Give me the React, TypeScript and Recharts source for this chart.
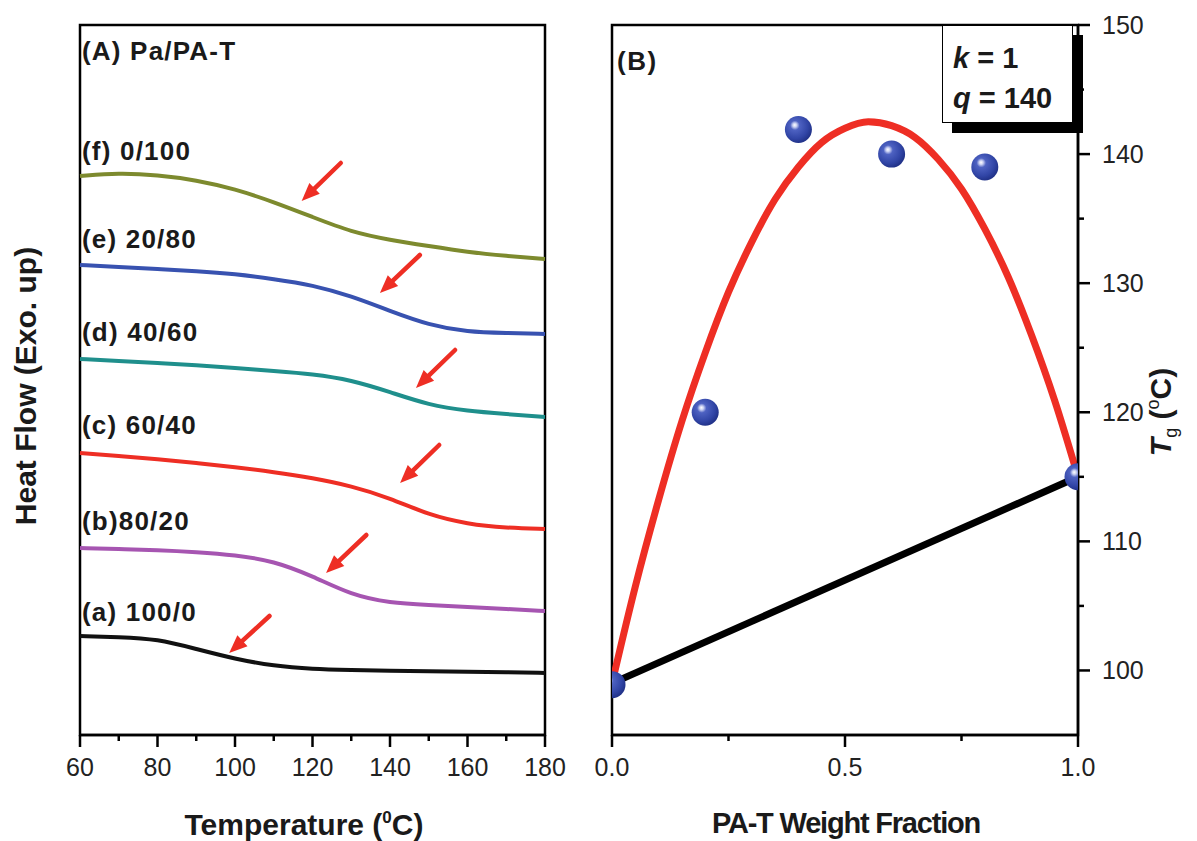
import React from 'react';
import {
  ComposedChart,
  Line,
  Scatter,
  XAxis,
  YAxis,
  ReferenceArea,
  ReferenceLine,
} from 'recharts';

// ---- panel A: DSC traces (heat flow in arbitrary units, offset per sample) ----
const temps = [60, 70, 80, 90, 100, 110, 120, 130, 140, 150, 160, 170, 180];
const flowF = [55.9, 56.2, 56.0, 55.5, 54.6, 53.3, 51.8, 50.3, 49.5, 48.9, 48.3, 47.9, 47.6];
const flowE = [47.0, 46.8, 46.6, 46.4, 46.1, 45.6, 45.0, 43.9, 42.4, 41.0, 40.3, 40.2, 40.1];
const flowD = [37.6, 37.4, 37.2, 37.0, 36.7, 36.4, 36.1, 35.5, 34.3, 33.0, 32.4, 32.1, 31.8];
const flowC = [28.2, 27.9, 27.6, 27.2, 26.8, 26.3, 25.7, 24.9, 23.7, 22.0, 21.1, 20.7, 20.6];
const flowB = [18.7, 18.6, 18.5, 18.3, 18.0, 17.4, 15.9, 14.0, 13.2, 13.0, 12.8, 12.6, 12.4];
const flowA = [9.9, 9.8, 9.6, 8.6, 7.6, 6.9, 6.6, 6.5, 6.4, 6.4, 6.3, 6.3, 6.2];

const tempTicks = [60, 70, 80, 90, 100, 110, 120, 130, 140, 150, 160, 170, 180];

// arrows marking Tg: [tailT, tailFlow, tipT, tipFlow]
const arrows = [
  [127.3, 57.2, 117.2, 53.4],
  [147.7, 48.0, 137.4, 44.2],
  [156.8, 38.5, 146.7, 34.7],
  [152.7, 29.0, 142.6, 25.2],
  [133.9, 20.0, 123.5, 16.2],
  [108.9, 11.9, 98.5, 8.2],
];

const curveLabels = ['(f) 0/100', '(e) 20/80', '(d) 40/60', '(c) 60/40', '(b)80/20', '(a) 100/0'];
const curveLabelY = [151, 239, 332, 425, 521, 612];

// ---- panel B: Tg vs composition ----
const fracs = [0, 0.2, 0.4, 0.6, 0.8, 1.0];
const tgMeasured = [98.9, 120, 141.9, 140, 139, 115];

const fitFracs = [0, 0.05, 0.1, 0.15, 0.2, 0.25, 0.3, 0.35, 0.4, 0.45, 0.5, 0.55, 0.6, 0.65, 0.7, 0.75, 0.8, 0.85, 0.9, 0.95, 1.0];
const tgKwei = [99, 106.5, 113.2, 119.3, 124.6, 129.3, 133.2, 136.5, 139.0, 140.9, 142.0, 142.5, 142.2, 141.3, 139.6, 137.3, 134.2, 130.5, 126.0, 120.9, 115];
const tgLinear = [99, 115];

const fracTicks = [0, 0.25, 0.5, 0.75, 1.0];
const tgTicks = [100, 105, 110, 115, 120, 125, 130, 135, 140, 145, 150];

const dscData = temps.map((t, i) => ({
  t,
  f: flowF[i],
  e: flowE[i],
  d: flowD[i],
  c: flowC[i],
  b: flowB[i],
  a: flowA[i],
}));
const pointData = fracs.map((w, i) => ({ w, tg: tgMeasured[i] }));
const kweiData = fitFracs.map((w, i) => ({ w, tg: tgKwei[i] }));
const linearData = [
  { w: 0, tg: tgLinear[0] },
  { w: 1, tg: tgLinear[1] },
];

const FONT = '"Liberation Sans", Arial, Helvetica, sans-serif';
const RED = '#ee2e24';

const BottomTick = (props: any) => {
  const { x, y, payload, major, fmt } = props;
  const isMajor = major(payload.value);
  return (
    <g>
      <line x1={x} x2={x} y1={y} y2={y + (isMajor ? 12 : 6)} stroke="#000" strokeWidth={2.5} />
      {isMajor && (
        <text x={x} y={y + 41} textAnchor="middle" fontFamily={FONT} fontSize={25} fill="#222">
          {fmt(payload.value)}
        </text>
      )}
    </g>
  );
};

const RightTick = (props: any) => {
  const { x, y, payload } = props;
  const isMajor = payload.value % 10 === 0;
  return (
    <g>
      <line x1={x} x2={x + (isMajor ? 12 : 6)} y1={y} y2={y} stroke="#000" strokeWidth={2.5} />
      {isMajor && (
        <text x={x + 24} y={y + 9} textAnchor="start" fontFamily={FONT} fontSize={25} fill="#222">
          {payload.value}
        </text>
      )}
    </g>
  );
};

const Arrow = (props: any) => {
  const { x1, y1, x2, y2 } = props;
  const dx = x2 - x1;
  const dy = y2 - y1;
  const len = Math.sqrt(dx * dx + dy * dy);
  const ux = dx / len;
  const uy = dy / len;
  const head = 18;
  const half = 7.5;
  const bx = x2 - ux * head;
  const by = y2 - uy * head;
  const pts = `${x2},${y2} ${bx - uy * half},${by + ux * half} ${bx + uy * half},${by - ux * half}`;
  return (
    <g>
      <line x1={x1} y1={y1} x2={bx + ux * 2} y2={by + uy * 2} stroke={RED} strokeWidth={4.5} strokeLinecap="round" />
      <polygon points={pts} fill={RED} />
    </g>
  );
};

const Sphere = (props: any) => {
  const { cx, cy } = props;
  return (
    <g>
      <defs>
        <radialGradient id="sphereGrad" cx="40%" cy="38%" r="62%" fx="36%" fy="33%">
          <stop offset="0%" stopColor="#ffffff" />
          <stop offset="12%" stopColor="#c9d0f2" />
          <stop offset="28%" stopColor="#4e62c2" />
          <stop offset="75%" stopColor="#3145a6" />
          <stop offset="100%" stopColor="#22338a" />
        </radialGradient>
      </defs>
      <circle cx={cx} cy={cy} r={13.5} fill="url(#sphereGrad)" />
    </g>
  );
};

const abs = (left: number, top: number): React.CSSProperties => ({
  position: 'absolute',
  left,
  top,
  whiteSpace: 'nowrap',
  fontFamily: FONT,
  color: '#1a1a1a',
});

export default function App() {
  return (
    <div style={{ position: 'absolute', left: 0, top: 0, width: 1197, height: 841, background: '#fff', overflow: 'hidden' }}>
      {/* Panel A */}
      <div style={{ position: 'absolute', left: 0, top: 0 }}>
        <ComposedChart width={580} height={841} data={dscData} margin={{ top: 25, right: 35, bottom: 105, left: 79 }}>
          <XAxis
            dataKey="t"
            type="number"
            domain={[60, 180]}
            ticks={tempTicks}
            interval={0}
            height={1}
            tickSize={0}
            tickMargin={0}
            tickLine={false}
            axisLine={{ stroke: '#000', strokeWidth: 2.5 }}
            tick={<BottomTick major={(v: number) => v % 20 === 0} fmt={(v: number) => String(v)} />}
          />
          <YAxis type="number" domain={[0, 71]} width={1} tick={false} tickLine={false} axisLine={false} />
          <ReferenceArea x1={60} x2={180} y1={0} y2={71} fill="none" stroke="#000" strokeWidth={2.5} ifOverflow="visible" />
          <Line type="basis" dataKey="f" stroke="#7d8a2e" strokeWidth={4} dot={false} isAnimationActive={false} />
          <Line type="basis" dataKey="e" stroke="#3852b0" strokeWidth={4} dot={false} isAnimationActive={false} />
          <Line type="basis" dataKey="d" stroke="#1f8f8c" strokeWidth={4} dot={false} isAnimationActive={false} />
          <Line type="basis" dataKey="c" stroke="#ee2e24" strokeWidth={4} dot={false} isAnimationActive={false} />
          <Line type="basis" dataKey="b" stroke="#a655b1" strokeWidth={4} dot={false} isAnimationActive={false} />
          <Line type="basis" dataKey="a" stroke="#111111" strokeWidth={4} dot={false} isAnimationActive={false} />
          {arrows.map((a, i) => (
            <ReferenceLine
              key={i}
              segment={[
                { x: a[0], y: a[1] },
                { x: a[2], y: a[3] },
              ]}
              ifOverflow="visible"
              shape={(p: any) => <Arrow {...p} />}
            />
          ))}
        </ComposedChart>
      </div>

      {/* Panel B */}
      <div style={{ position: 'absolute', left: 580, top: 0 }}>
        <ComposedChart width={617} height={841} margin={{ top: 25, right: 118, bottom: 105, left: 32 }}>
          <XAxis
            dataKey="w"
            type="number"
            domain={[0, 1]}
            ticks={fracTicks}
            interval={0}
            height={1}
            tickSize={0}
            tickMargin={0}
            tickLine={false}
            allowDataOverflow
            axisLine={{ stroke: '#000', strokeWidth: 2.5 }}
            tick={<BottomTick major={(v: number) => Math.abs(v * 2 - Math.round(v * 2)) < 1e-6} fmt={(v: number) => v.toFixed(1)} />}
          />
          <YAxis
            orientation="right"
            type="number"
            domain={[95, 150]}
            ticks={tgTicks}
            interval={0}
            width={1}
            tickSize={0}
            tickMargin={0}
            tickLine={false}
            allowDataOverflow
            axisLine={{ stroke: '#000', strokeWidth: 2.5 }}
            tick={<RightTick />}
          />
          <ReferenceArea x1={0} x2={1} y1={95} y2={150} fill="none" stroke="#000" strokeWidth={2.5} ifOverflow="visible" />
          <Scatter data={pointData} dataKey="tg" shape={(p: any) => <Sphere {...p} />} isAnimationActive={false} />
          <Line data={kweiData} type="monotone" dataKey="tg" stroke={RED} strokeWidth={7} dot={false} isAnimationActive={false} />
          <Line data={linearData} type="linear" dataKey="tg" stroke="#000" strokeWidth={7} dot={false} isAnimationActive={false} />
        </ComposedChart>
      </div>

      {/* annotations */}
      <div style={{ ...abs(82, 36), fontSize: 26, fontWeight: 700, letterSpacing: 1.2, lineHeight: '30px' }}>(A) Pa/PA-T</div>
      {curveLabels.map((s, i) => (
        <div key={s} style={{ ...abs(82, curveLabelY[i] - 15), fontSize: 26, fontWeight: 700, letterSpacing: 1.2, lineHeight: '30px' }}>
          {s}
        </div>
      ))}
      <div style={{ ...abs(617, 46), fontSize: 26, fontWeight: 700, letterSpacing: 1.5, lineHeight: '30px' }}>(B)</div>

      <div
        style={{
          position: 'absolute',
          left: 942,
          top: 25,
          width: 129,
          height: 96,
          border: '1.5px solid #000',
          background: '#fff',
          boxShadow: '10px 10px 0 #000',
        }}
      />
      <div style={{ ...abs(953, 42), fontSize: 29, fontWeight: 700, lineHeight: '32px' }}>
        <i>k</i> = 1
      </div>
      <div style={{ ...abs(953, 82), fontSize: 29, fontWeight: 700, lineHeight: '32px' }}>
        <i>q</i> = 140
      </div>

      {/* axis titles */}
      <div
        style={{
          ...abs(26, 386),
          fontSize: 30,
          fontWeight: 700,
          lineHeight: '34px',
          transform: 'translate(-50%, -50%) rotate(-90deg)',
        }}
      >
        Heat Flow (Exo. up)
      </div>
      <div style={{ ...abs(304, 821), fontSize: 30, fontWeight: 700, lineHeight: '34px', transform: 'translate(-50%, -50%)' }}>
        Temperature (<span style={{ fontSize: 17, verticalAlign: 12 }}>0</span>C)
      </div>
      <div
        style={{
          ...abs(846, 823),
          fontSize: 29,
          fontWeight: 700,
          letterSpacing: -1.2,
          lineHeight: '34px',
          transform: 'translate(-50%, -50%)',
        }}
      >
        PA-T Weight Fraction
      </div>
      <div
        style={{
          ...abs(1162, 412),
          fontSize: 30,
          fontWeight: 700,
          lineHeight: '34px',
          transform: 'translate(-50%, -50%) rotate(-90deg)',
        }}
      >
        <i>T</i>
        <span style={{ fontSize: 18, fontWeight: 400, verticalAlign: -6 }}>g</span> (
        <span style={{ fontSize: 18, fontWeight: 400, verticalAlign: 12 }}>o</span>C)
      </div>
    </div>
  );
}
